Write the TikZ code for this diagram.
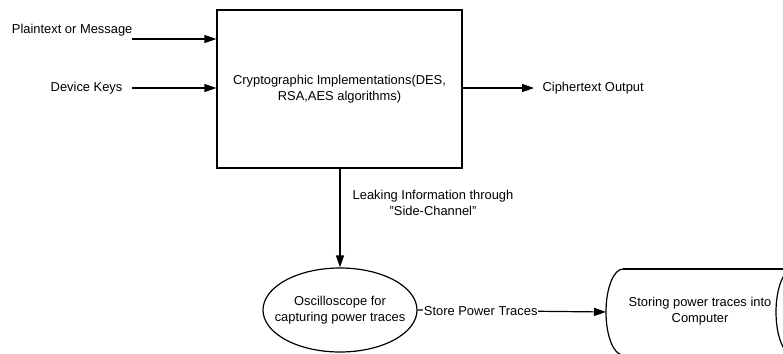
\documentclass[tikz,border=0pt]{standalone}
\usepackage{fontspec}
\setmainfont{Liberation Sans}
\usetikzlibrary{arrows.meta,shapes.geometric}
\begin{document}
\begin{tikzpicture}[x=1pt,y=-1pt,
  line width=1.2pt,
  txt/.style={font=\fontsize{12.9}{15.5}\selectfont, align=center, inner sep=0pt},
  flow/.style={-{Triangle[length=12pt,width=8pt]}},
  blockbox/.style={draw, minimum width=245pt, minimum height=158pt, inner sep=0pt},
  oval/.style={draw, ellipse, minimum width=154pt, minimum height=84pt, inner sep=0pt}]
\useasboundingbox (0,0) rectangle (783,353);
\clip (0,0) rectangle (783,353);

% main processing block
\node[blockbox, txt] (crypto) at (339.5,89)
  {Cryptographic Implementations(DES,\\RSA,AES algorithms)};

% inputs
\node[txt, anchor=east] (plain) at (133,30) {Plaintext or Message};
\coordinate (plainstart) at (132,39);
\node[txt, anchor=east] (keys) at (123,88) {Device Keys};
\coordinate (keystart) at (132,88);

\draw[flow] (plainstart) -- (crypto.west |- plainstart);
\draw[flow] (keystart) -- (crypto.west |- keystart);

% output
\node[txt, anchor=west] (cipher) at (542,88) {Ciphertext Output};
\draw[flow] (crypto.east |- cipher) -- ([xshift=-8pt]cipher.west);

% oscilloscope
\node[oval] (scope) at (340,310) {};
\node[txt] (scopetxt) at (scope.center) {Oscilloscope for\\capturing power traces};
\draw[flow] (crypto.south -| scope.north) -- (scope.north);
\node[txt] (leak) at (433,203) {Leaking Information through\\"Side-Channel"};

% storage drum
\draw (623,269) -- (800,269) (623,355) -- (800,355);
\draw (623,269) arc[start angle=270, end angle=90, x radius=17, y radius=43];
\draw (793,269) arc[start angle=270, end angle=90, x radius=17, y radius=43];
\coordinate (store) at (606,312);
\node[txt] (storetxt) at (700,311) {Storing power traces into\\Computer};

\draw[flow] (scope.east) -- node[txt, fill=white, inner xsep=1pt, pos=0.335] (storelabel) {Store Power Traces} (store);
\end{tikzpicture}
\end{document}
